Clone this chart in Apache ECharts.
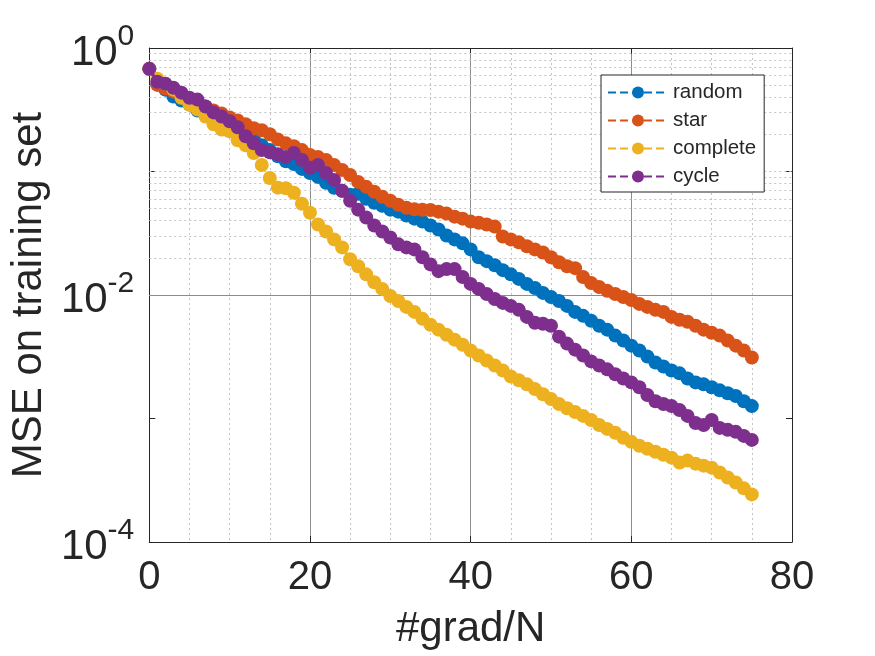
<!DOCTYPE html>
<html>
<head>
<meta charset="utf-8">
<script src="https://cdn.jsdelivr.net/npm/echarts@6/dist/echarts.min.js"></script>
<style>
  html, body { margin: 0; padding: 0; background: #fff; }
  #chart { width: 875px; height: 656px; }
</style>
</head>
<body>
<div id="chart"></div>
<script>
// MSE on training set, one point per #grad/N (0..75)
var random = [
  0.678, 0.505, 0.460, 0.404, 0.375, 0.348, 0.312, 0.301, 0.284, 0.269,
  0.250, 0.224, 0.204, 0.186, 0.163, 0.149, 0.133, 0.121, 0.115, 0.105,
  0.0973, 0.0904, 0.0809, 0.0737, 0.0697, 0.0648, 0.0660, 0.0601, 0.0559, 0.0528,
  0.0491, 0.0473, 0.0440, 0.0415, 0.0393, 0.0365, 0.0339, 0.0303, 0.0282, 0.0262,
  0.0234, 0.0202, 0.0188, 0.0174, 0.0159, 0.0147, 0.0135, 0.0123, 0.0114, 0.0104,
  0.00964, 0.00895, 0.00816, 0.00730, 0.00678, 0.00618, 0.00564, 0.00524, 0.00469, 0.00428,
  0.00389, 0.00355, 0.00318, 0.00284, 0.00264, 0.00245, 0.00232, 0.00211, 0.00196, 0.00189,
  0.00179, 0.00169, 0.00160, 0.00152, 0.00138, 0.00126
];
var star = [
  0.678, 0.505, 0.469, 0.443, 0.411, 0.382, 0.361, 0.336, 0.312, 0.295,
  0.274, 0.259, 0.241, 0.224, 0.216, 0.200, 0.182, 0.169, 0.160, 0.149,
  0.136, 0.131, 0.124, 0.113, 0.103, 0.0938, 0.0824, 0.0751, 0.0685, 0.0624,
  0.0580, 0.0538, 0.0509, 0.0495, 0.0490, 0.0488, 0.0473, 0.0456, 0.0431, 0.0415,
  0.0393, 0.0385, 0.0372, 0.0358, 0.0298, 0.0282, 0.0267, 0.0248, 0.0234, 0.0221,
  0.0202, 0.0184, 0.0171, 0.0165, 0.0140, 0.0125, 0.0116, 0.0108, 0.0102, 0.00964,
  0.00912, 0.00847, 0.00801, 0.00758, 0.00730, 0.00665, 0.00630, 0.00607, 0.00564, 0.00524,
  0.00495, 0.00469, 0.00428, 0.00389, 0.00355, 0.00312
];
var complete = [
  0.678, 0.564, 0.514, 0.460, 0.396, 0.348, 0.318, 0.279, 0.241, 0.219,
  0.212, 0.179, 0.163, 0.141, 0.113, 0.0887, 0.0740, 0.0732, 0.0672, 0.0548,
  0.0464, 0.0372, 0.0327, 0.0282, 0.0243, 0.0195, 0.0171, 0.0147, 0.0127, 0.0112,
  0.00982, 0.00895, 0.00801, 0.00730, 0.00641, 0.00574, 0.00524, 0.00477, 0.00435, 0.00396,
  0.00355, 0.00324, 0.00295, 0.00269, 0.00245, 0.00219, 0.00204, 0.00189, 0.00173, 0.00157,
  0.00144, 0.00131, 0.00121, 0.00113, 0.00105, 0.000973, 0.000887, 0.000824, 0.000766, 0.000697,
  0.000647, 0.000601, 0.000569, 0.000538, 0.000509, 0.000482, 0.000440, 0.000456, 0.000431, 0.000415,
  0.000400, 0.000365, 0.000333, 0.000303, 0.000272, 0.000243
];
var cycle = [
  0.678, 0.533, 0.514, 0.477, 0.435, 0.396, 0.382, 0.336, 0.301, 0.279,
  0.255, 0.228, 0.193, 0.169, 0.149, 0.143, 0.138, 0.131, 0.141, 0.124,
  0.107, 0.113, 0.0973, 0.0855, 0.0697, 0.0580, 0.0491, 0.0424, 0.0365, 0.0327,
  0.0292, 0.0257, 0.0243, 0.0234, 0.0202, 0.0177, 0.0156, 0.0162, 0.0162, 0.0140,
  0.0123, 0.0112, 0.0102, 0.00929, 0.00863, 0.00816, 0.00758, 0.00665, 0.00596, 0.00585,
  0.00564, 0.00460, 0.00404, 0.00361, 0.00324, 0.00290, 0.00269, 0.00250, 0.00228, 0.00211,
  0.00196, 0.00179, 0.00155, 0.00138, 0.00131, 0.00126, 0.00117, 0.00105, 0.000920, 0.000887,
  0.000973, 0.000839, 0.000809, 0.000780, 0.000723, 0.000671
];
var names = ['random', 'star', 'complete', 'cycle'];
var colors = ['#0072BD', '#D95319', '#EDB120', '#7E2F8E'];

var xTicks = [0, 20, 40, 60, 80];
var yLabelExps = [0, -2, -4];   // decades that get a label
var yMajorGrid = [0.01];          // solid grid line inside the box

var FONT = 'Liberation Sans, Arial, Helvetica, sans-serif';
var INK = '#262626';

function pairs(vals) {
  var out = [];
  for (var i = 0; i < vals.length; i++) out.push([i, vals[i]]);
  return out;
}

// dotted minor grid: 2..9 x 10^k plus the unlabeled decades
var minorGrid = [];
for (var k = -4; k < 0; k++) {
  for (var m = 1; m <= 9; m++) {
    var v = m * Math.pow(10, k);
    if (m == 1 && (k == -4 || k == -2)) continue;
    minorGrid.push({ yAxis: v, lineStyle: { color: '#c4c4c4', type: [2, 3], width: 1 } });
  }
}
yMajorGrid.forEach(function (v) {
  minorGrid.push({ yAxis: v, lineStyle: { color: '#8c8c8c', type: 'solid', width: 1 } });
});

var series = [];
var all = [random, star, complete, cycle];
for (var s = 0; s < 4; s++) {
  var ser = {
    name: names[s],
    type: 'line',
    data: pairs(all[s]),
    symbol: 'circle',
    symbolSize: 14,
    showAllSymbol: true,
    itemStyle: { color: colors[s] },
    lineStyle: { color: colors[s], width: 3, type: 'dashed' },
    z: 3 + s
  };
  if (s == 0) {
    ser.markLine = {
      silent: true, symbol: 'none', z: 1, animation: false,
      label: { show: false },
      data: minorGrid
    };
  }
  series.push(ser);
}

var chart = echarts.init(document.getElementById('chart'));
chart.setOption({
  animation: false,
  backgroundColor: '#ffffff',
  textStyle: { fontFamily: FONT, color: INK },
  grid: { left: 145, right: 83, top: 48, bottom: 114 },
  legend: {
    data: names,
    orient: 'vertical',
    left: 601, top: 75,
    padding: [7, 8, 5, 6],
    itemWidth: 60, itemHeight: 15, itemGap: 7,
    backgroundColor: '#ffffff',
    borderColor: INK, borderWidth: 1,
    textStyle: { fontFamily: FONT, fontSize: 20.5, color: INK },
    z: 10
  },
  xAxis: [{
    type: 'value', min: 0, max: 80, interval: 20,
    axisLine: { show: true, onZero: false, lineStyle: { color: INK, width: 1 } },
    axisTick: { show: true, inside: true, length: 6, lineStyle: { color: INK } },
    axisLabel: { fontFamily: FONT, fontSize: 40, color: INK, margin: 16,
      formatter: function (v) { return xTicks.indexOf(v) >= 0 ? String(v) : ''; } },
    splitLine: { show: true, lineStyle: { color: '#8c8c8c', width: 1 } },
    minorTick: { show: false, splitNumber: 4 },
    minorSplitLine: { show: true, lineStyle: { color: '#c4c4c4', type: [2, 3], width: 1 } },
    name: '#grad/N', nameLocation: 'middle', nameGap: 66,
    nameTextStyle: { fontFamily: FONT, fontSize: 42, color: INK }
  }, {
    type: 'value', min: 0, max: 80, interval: 20, position: 'top',
    axisLine: { show: true, onZero: false, lineStyle: { color: INK, width: 1 } },
    axisTick: { show: true, inside: true, length: 6, lineStyle: { color: INK } },
    axisLabel: { show: false }, splitLine: { show: false }
  }],
  yAxis: [{
    type: 'log', logBase: 10, min: 0.0001, max: 1,
    axisLine: { show: true, onZero: false, lineStyle: { color: INK, width: 1 } },
    axisTick: { show: true, inside: true, length: 6, lineStyle: { color: INK } },
    splitLine: { show: false },
    axisLabel: {
      margin: 15, color: INK, fontFamily: FONT,
      formatter: function (v) {
        var e = Math.round(Math.log(v) / Math.LN10);
        if (yLabelExps.indexOf(e) < 0) return '';
        return '{b|10}{s|' + e + '}';
      },
      rich: {
        b: { fontSize: 42, fontFamily: FONT, color: INK, verticalAlign: 'bottom', lineHeight: 52 },
        s: { fontSize: 30, fontFamily: FONT, color: INK, verticalAlign: 'top', lineHeight: 52 }
      }
    },
    name: 'MSE on training set', nameLocation: 'middle', nameGap: 84, nameRotate: 90,
    nameTextStyle: { fontFamily: FONT, fontSize: 42, color: INK }
  }, {
    type: 'log', logBase: 10, min: 0.0001, max: 1, position: 'right',
    axisLine: { show: true, onZero: false, lineStyle: { color: INK, width: 1 } },
    axisTick: { show: true, inside: true, length: 6, lineStyle: { color: INK } },
    axisLabel: { show: false }, splitLine: { show: false }
  }],
  series: series
});
</script>
</body>
</html>
